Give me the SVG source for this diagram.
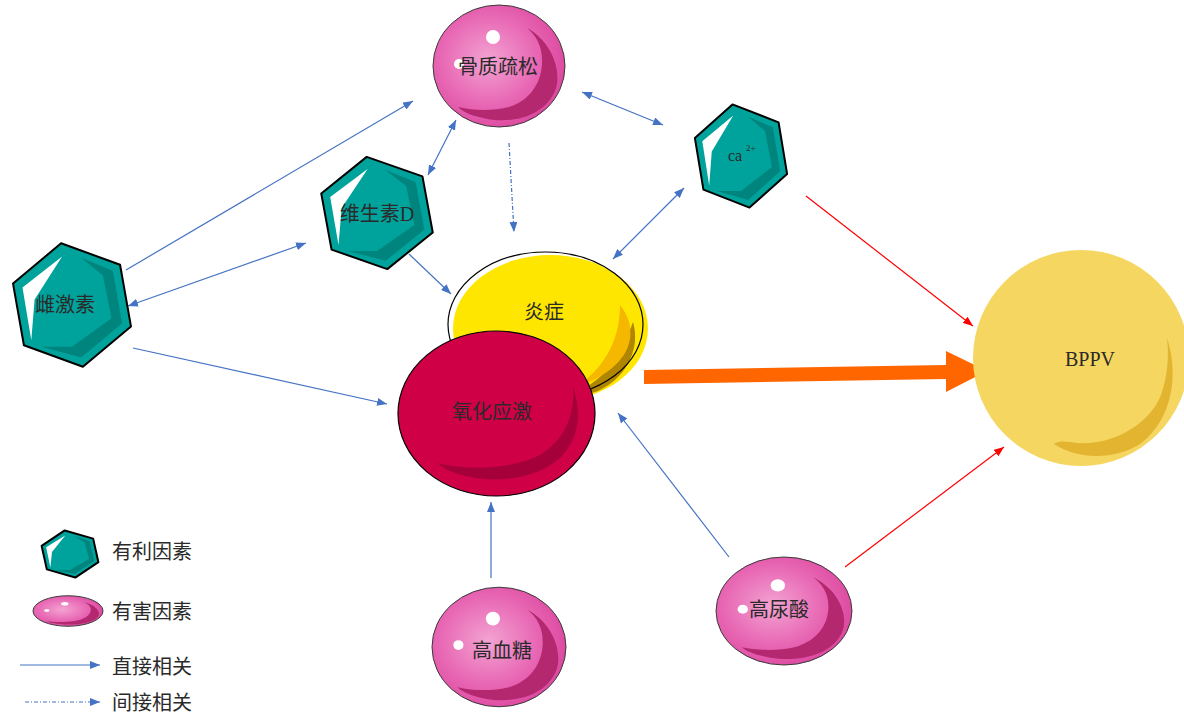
<svg xmlns="http://www.w3.org/2000/svg" width="1184" height="714" viewBox="0 0 1184 714">
  <style>
    .lbl { font-family: "Liberation Serif", "Noto Sans CJK SC", serif; font-size: 20px; fill: #2a2a2a; }
    .lbl-sm { font-family: "Liberation Serif", "Noto Sans CJK SC", serif; font-size: 16px; fill: #2a2a2a; }
    .lbl-sup { font-family: "Liberation Serif", "Noto Sans CJK SC", serif; font-size: 9px; fill: #2a2a2a; }
    .leg { font-family: "Liberation Serif", "Noto Sans CJK SC", serif; font-size: 20px; fill: #2a2a2a; }
    .hex-body { fill: #00a39b; }
    .hex-band { fill: #00847e; }
    .hex-shine { fill: #ffffff; }
    .hex-edge { fill: none; stroke: #000; stroke-width: 2; stroke-linejoin: round; vector-effect: non-scaling-stroke; }
    .ball-body { fill: url(#pinkGrad); stroke: #3a3a3a; stroke-width: 1; vector-effect: non-scaling-stroke; }
    .ball-moon { fill: #b3286f; }
    .ball-glint { fill: #ffffff; }
    .link { fill: none; stroke: #4472c4; stroke-width: 1.2; }
    .link-dot { fill: none; stroke: #4472c4; stroke-width: 1.2; stroke-dasharray: 4 2 1 2; }
    .link-red { fill: none; stroke: #ff0000; stroke-width: 1.2; }
  </style>
  <defs>
    <radialGradient id="pinkGrad" cx="0.42" cy="0.45" r="0.6">
      <stop offset="0" stop-color="#f3a3d3"/>
      <stop offset="0.6" stop-color="#e868b4"/>
      <stop offset="1" stop-color="#dc489f"/>
    </radialGradient>
    <marker id="arrowBlue" viewBox="0 0 10 8" refX="10" refY="4" markerWidth="10" markerHeight="8" markerUnits="userSpaceOnUse" orient="auto-start-reverse">
      <path d="M0,0 L10,4 L0,8 z" fill="#4472c4"/>
    </marker>
    <marker id="arrowRed" viewBox="0 0 10 8" refX="10" refY="4" markerWidth="10" markerHeight="8" markerUnits="userSpaceOnUse" orient="auto">
      <path d="M0,0 L10,4 L0,8 z" fill="#ff0000"/>
    </marker>
    <!-- teal hexagon badge, radius 57 around the origin -->
    <g id="hex-shape">
      <polygon class="hex-body" points="-9.9,-56.1 43.7,-36.6 53.6,19.5 9.9,56.1 -43.7,36.6 -53.6,-19.5"/>
      <polygon class="hex-band" points="8,-43 37.1,-31.1 45.6,16.6 8.4,47.7 -28,38 0,38 36,12 28,-27"/>
      <polygon class="hex-shine" points="-9,-44 -45,-16 -37,32 -34,-5"/>
      <polygon class="hex-edge" points="-9.9,-56.1 43.7,-36.6 53.6,19.5 9.9,56.1 -43.7,36.6 -53.6,-19.5"/>
    </g>
    <!-- pink glossy ball, rx 66 / ry 61 around the origin -->
    <g id="ball-shape">
      <ellipse class="ball-body" cx="0" cy="0" rx="66" ry="61"/>
      <path class="ball-moon" d="M28,-38 C52,-25 64,5 56,25 C46,48 20,56 -5,54 C-20,52 -34,48 -41,41 C-25,45 -5,45 10,41 C30,35 42,18 43,-2 C44,-18 38,-30 28,-38 Z"/>
      <circle class="ball-glint" cx="-6" cy="-29" r="7"/>
      <circle class="ball-glint" cx="-40" cy="-2" r="5"/>
    </g>
  </defs>

  <!-- connectors -->
  <g id="connectors">
    <line class="link" x1="126" y1="270" x2="413" y2="101" marker-end="url(#arrowBlue)"/>
    <line class="link" x1="128" y1="306" x2="306" y2="243" marker-start="url(#arrowBlue)" marker-end="url(#arrowBlue)"/>
    <line class="link" x1="456" y1="120" x2="428" y2="175" marker-start="url(#arrowBlue)" marker-end="url(#arrowBlue)"/>
    <line class="link" x1="582" y1="92" x2="663" y2="125" marker-start="url(#arrowBlue)" marker-end="url(#arrowBlue)"/>
    <line class="link" x1="684" y1="188" x2="613" y2="259" marker-start="url(#arrowBlue)" marker-end="url(#arrowBlue)"/>
    <line class="link-dot" x1="509" y1="143" x2="514" y2="232" marker-end="url(#arrowBlue)"/>
    <line class="link" x1="409" y1="254" x2="451" y2="294" marker-end="url(#arrowBlue)"/>
    <line class="link" x1="133" y1="348" x2="387" y2="404" marker-end="url(#arrowBlue)"/>
    <line class="link" x1="491" y1="578" x2="491" y2="502" marker-end="url(#arrowBlue)"/>
    <line class="link" x1="729" y1="557" x2="618" y2="413" marker-end="url(#arrowBlue)"/>
    <line class="link-red" x1="806" y1="196" x2="973" y2="326" marker-end="url(#arrowRed)"/>
    <line class="link-red" x1="845" y1="567" x2="1004" y2="447" marker-end="url(#arrowRed)"/>
    <polygon points="644,370 946,365 946,351 987,371 946,392 946,379 644,384" fill="#ff6600"/>
  </g>

  <g id="node-bppv">
    <circle cx="1081" cy="358" r="108" fill="#f5d660"/>
    <path d="M1167,338 C1178,370 1175,418 1140,444 C1115,460 1078,460 1054,444 C1060,440 1068,442 1077,443 C1112,446 1150,424 1161,395 C1168,375 1169,355 1167,338 Z" fill="#e2b430"/>
    <text class="lbl" x="1090" y="366" text-anchor="middle">BPPV</text>
  </g>

  <g id="node-inflammation">
    <ellipse cx="550.5" cy="328.5" rx="97.5" ry="73.5" fill="#ffe600"/>
    <path d="M633,322 C640,345 630,375 600,390 C590,395 582,394 578,392 C600,380 622,360 628,335 Z" fill="#b08600"/>
    <path d="M620,305 C636,325 634,350 612,368 C600,378 588,383 578,386 C600,370 620,345 620,305 Z" fill="#f5b700"/>
    <ellipse cx="545.5" cy="324.5" rx="97.5" ry="72.5" fill="none" stroke="#000" stroke-width="1.2"/>
    <text class="lbl" x="544" y="319" text-anchor="middle">炎症</text>
  </g>

  <g id="node-oxidative">
    <ellipse cx="496.5" cy="413.5" rx="98.5" ry="82.5" fill="#cf0046" stroke="#000" stroke-width="1.2"/>
    <path d="M573,387 C585,420 578,465 520,477 C490,483 455,478 437,463 C465,470 510,470 540,455 C565,440 575,415 573,387 Z" fill="#a6003b"/>
    <text class="lbl" x="492" y="419" text-anchor="middle">氧化应激</text>
  </g>

  <g id="node-osteoporosis">
    <use href="#ball-shape" transform="translate(499,66)"/>
    <text class="lbl" x="498" y="74" text-anchor="middle">骨质疏松</text>
  </g>

  <g id="node-hyperglycemia">
    <use href="#ball-shape" transform="translate(499,647) scale(1.015,0.98)"/>
    <text class="lbl" x="502" y="658" text-anchor="middle">高血糖</text>
  </g>

  <g id="node-hyperuricemia">
    <use href="#ball-shape" transform="translate(784,611) scale(1.03,0.885)"/>
    <text class="lbl" x="779" y="617" text-anchor="middle">高尿酸</text>
  </g>

  <g id="node-vitamin-d">
    <use href="#hex-shape" transform="translate(377,213) scale(1.04,1.0)"/>
    <text class="lbl" x="377" y="221" text-anchor="middle">维生素D</text>
  </g>

  <g id="node-estrogen">
    <use href="#hex-shape" transform="translate(72,305) scale(1.1,1.1)"/>
    <text class="lbl" x="65" y="312" text-anchor="middle">雌激素</text>
  </g>

  <g id="node-calcium">
    <use href="#hex-shape" transform="translate(741,156) scale(0.86,0.92)"/>
    <text class="lbl-sm" x="728" y="161">ca</text>
    <text class="lbl-sup" x="746" y="151">2+</text>
  </g>

  <g id="legend">
    <use href="#hex-shape" transform="translate(70,554) scale(0.53,0.42)"/>
    <text class="leg" x="112" y="559">有利因素</text>
    <use href="#ball-shape" transform="translate(68,611) scale(0.53,0.25)"/>
    <text class="leg" x="112" y="619">有害因素</text>
    <line class="link" x1="20" y1="665" x2="100" y2="665" marker-end="url(#arrowBlue)"/>
    <text class="leg" x="112" y="674">直接相关</text>
    <line class="link-dot" x1="25" y1="702" x2="100" y2="702" marker-end="url(#arrowBlue)"/>
    <text class="leg" x="112" y="710">间接相关</text>
  </g>
</svg>
